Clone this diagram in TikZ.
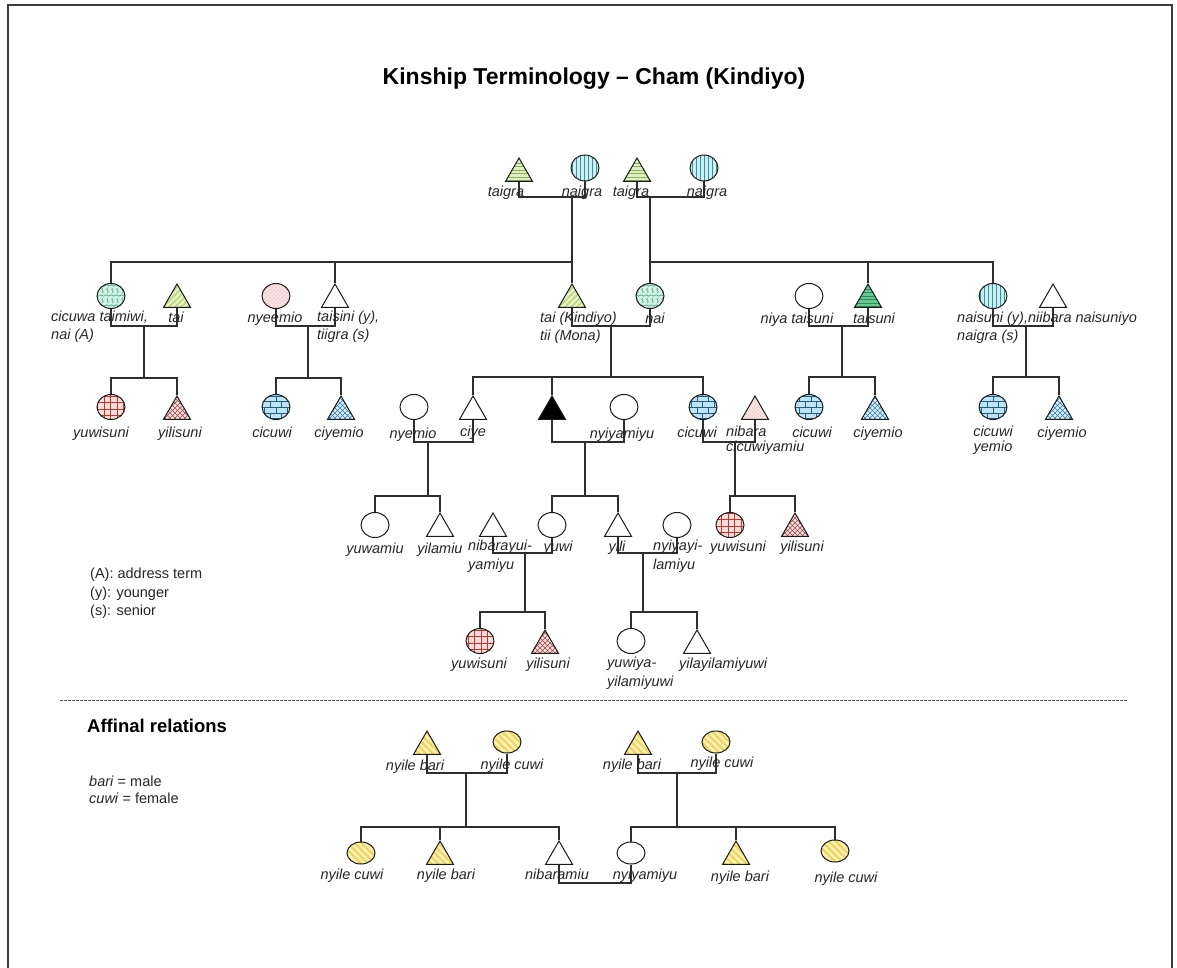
\documentclass[tikz,border=0pt]{standalone}
\usepackage{fontspec}
\setmainfont{Liberation Sans}
\usetikzlibrary{shapes.geometric,patterns}

\pgfdeclarepatternformonly{stripesNW}{\pgfqpoint{-1pt}{-1pt}}{\pgfqpoint{8pt}{8pt}}{\pgfqpoint{7pt}{7pt}}{%
  \pgfsetlinewidth{2.2pt}%
  \pgfpathmoveto{\pgfqpoint{-0.5pt}{7.5pt}}\pgfpathlineto{\pgfqpoint{7.5pt}{-0.5pt}}%
  \pgfpathmoveto{\pgfqpoint{-1.5pt}{1.5pt}}\pgfpathlineto{\pgfqpoint{1.5pt}{-1.5pt}}%
  \pgfpathmoveto{\pgfqpoint{5.5pt}{8.5pt}}\pgfpathlineto{\pgfqpoint{8.5pt}{5.5pt}}%
  \pgfusepath{stroke}}
\pgfdeclarepatternformonly{stripesNE}{\pgfqpoint{-1pt}{-1pt}}{\pgfqpoint{7pt}{7pt}}{\pgfqpoint{6pt}{6pt}}{%
  \pgfsetlinewidth{1.8pt}%
  \pgfpathmoveto{\pgfqpoint{-0.5pt}{-0.5pt}}\pgfpathlineto{\pgfqpoint{6.5pt}{6.5pt}}%
  \pgfpathmoveto{\pgfqpoint{-1.5pt}{4.5pt}}\pgfpathlineto{\pgfqpoint{1.5pt}{7.5pt}}%
  \pgfpathmoveto{\pgfqpoint{4.5pt}{-1.5pt}}\pgfpathlineto{\pgfqpoint{7.5pt}{1.5pt}}%
  \pgfusepath{stroke}}
\pgfdeclarepatternformonly{vlines}{\pgfqpoint{-1pt}{-1pt}}{\pgfqpoint{5pt}{5pt}}{\pgfqpoint{4pt}{4pt}}{%
  \pgfsetlinewidth{0.7pt}%
  \pgfpathmoveto{\pgfqpoint{0pt}{-0.5pt}}\pgfpathlineto{\pgfqpoint{0pt}{4.5pt}}%
  \pgfusepath{stroke}}
\pgfdeclarepatternformonly{hlines}{\pgfqpoint{-1pt}{-1pt}}{\pgfqpoint{4.5pt}{4.5pt}}{\pgfqpoint{3.5pt}{3.5pt}}{%
  \pgfsetlinewidth{0.6pt}%
  \pgfpathmoveto{\pgfqpoint{-0.5pt}{0pt}}\pgfpathlineto{\pgfqpoint{4pt}{0pt}}%
  \pgfusepath{stroke}}
\pgfdeclarepatternformonly{biggrid}{\pgfqpoint{-1pt}{-1pt}}{\pgfqpoint{7.5pt}{7.5pt}}{\pgfqpoint{6.5pt}{6.5pt}}{%
  \pgfsetlinewidth{0.9pt}%
  \pgfpathmoveto{\pgfqpoint{0pt}{-0.5pt}}\pgfpathlineto{\pgfqpoint{0pt}{7pt}}%
  \pgfpathmoveto{\pgfqpoint{-0.5pt}{0pt}}\pgfpathlineto{\pgfqpoint{7pt}{0pt}}%
  \pgfusepath{stroke}}
\pgfdeclarepatternformonly{bigxhatch}{\pgfqpoint{-1pt}{-1pt}}{\pgfqpoint{6pt}{6pt}}{\pgfqpoint{5pt}{5pt}}{%
  \pgfsetlinewidth{0.6pt}%
  \pgfpathmoveto{\pgfqpoint{0pt}{0pt}}\pgfpathlineto{\pgfqpoint{5.1pt}{5.1pt}}%
  \pgfpathmoveto{\pgfqpoint{0pt}{5pt}}\pgfpathlineto{\pgfqpoint{5.1pt}{-0.1pt}}%
  \pgfusepath{stroke}}
\pgfdeclarepatternformonly{sparsedots}{\pgfqpoint{-1pt}{-1pt}}{\pgfqpoint{5pt}{5pt}}{\pgfqpoint{4pt}{4pt}}{%
  \pgfpathcircle{\pgfqpoint{0pt}{0pt}}{0.5pt}%
  \pgfpathcircle{\pgfqpoint{2pt}{2pt}}{0.5pt}%
  \pgfusepath{fill}}
\pgfdeclarepatternformonly{wavy}{\pgfqpoint{-1pt}{-1pt}}{\pgfqpoint{11pt}{11pt}}{\pgfqpoint{10pt}{10pt}}{%
  \pgfsetlinewidth{0.6pt}%
  \pgfpathmoveto{\pgfqpoint{0pt}{2.5pt}}%
  \pgfpathcurveto{\pgfqpoint{2pt}{5pt}}{\pgfqpoint{3pt}{0pt}}{\pgfqpoint{5pt}{2.5pt}}%
  \pgfpathcurveto{\pgfqpoint{7pt}{5pt}}{\pgfqpoint{8pt}{0pt}}{\pgfqpoint{10pt}{2.5pt}}%
  \pgfpathmoveto{\pgfqpoint{2.5pt}{5pt}}%
  \pgfpathcurveto{\pgfqpoint{5pt}{7pt}}{\pgfqpoint{0pt}{8pt}}{\pgfqpoint{2.5pt}{10pt}}%
  \pgfpathmoveto{\pgfqpoint{7.5pt}{5pt}}%
  \pgfpathcurveto{\pgfqpoint{10pt}{7pt}}{\pgfqpoint{5pt}{8pt}}{\pgfqpoint{7.5pt}{10pt}}%
  \pgfusepath{stroke}}

\definecolor{shapeline}{HTML}{1A1A1A}
\definecolor{linkcol}{HTML}{2E2E2E}
\definecolor{txt}{HTML}{262626}
\definecolor{gfill}{HTML}{DDEFC3}
\definecolor{glines}{HTML}{8FAF5A}
\definecolor{cfill}{HTML}{C9F1F5}
\definecolor{clines}{HTML}{3F8F99}
\definecolor{mfill}{HTML}{D2F2E4}
\definecolor{mlines}{HTML}{3E9B7E}
\definecolor{tfill}{HTML}{EEF6CF}
\definecolor{tlines}{HTML}{C2DA86}
\definecolor{pfill}{HTML}{FCE6E6}
\definecolor{plines}{HTML}{A86A6A}
\definecolor{rfill}{HTML}{FADCDC}
\definecolor{rlines}{HTML}{C0392B}
\definecolor{xfill}{HTML}{F6DEDE}
\definecolor{xlines}{HTML}{9E4A4A}
\definecolor{bfill}{HTML}{BFE3F5}
\definecolor{blines}{HTML}{1F5F80}
\definecolor{yfill}{HTML}{D7EEF8}
\definecolor{ylines}{HTML}{3A7EA8}
\definecolor{sfill}{HTML}{66C98F}
\definecolor{slines}{HTML}{2E8B57}
\definecolor{afill}{HTML}{EFD660}
\definecolor{alines}{HTML}{FBF1B8}

\newcommand\labfont{\fontsize{14.5}{17}\selectfont\itshape}

\begin{document}
\begin{tikzpicture}[x=1pt,y=-1pt,
  cir/.style={ellipse, minimum width=28pt, minimum height=25pt, inner sep=0pt, draw=shapeline, line width=1pt},
  tri/.style={regular polygon, regular polygon sides=3, minimum size=31.2pt, inner sep=0pt, draw=shapeline, line width=1pt},
  ln/.style={line width=1.2pt, draw=linkcol},
  lab/.style={font=\labfont, text=txt, inner sep=0pt, anchor=base},
  multi/.style={font=\labfont, text=txt, inner sep=0pt, anchor=north west, align=left},
  taigraS/.style={preaction={fill=gfill}, pattern=hlines, pattern color=glines},
  naigraS/.style={preaction={fill=cfill}, pattern=vlines, pattern color=clines},
  mintS/.style={preaction={fill=mfill}, pattern=wavy, pattern color=mlines},
  taiS/.style={preaction={fill=tfill}, pattern=stripesNE, pattern color=tlines},
  pinkS/.style={preaction={fill=pfill}, pattern=sparsedots, pattern color=plines},
  gridS/.style={preaction={fill=rfill}, pattern=biggrid, pattern color=rlines},
  xhatchS/.style={preaction={fill=xfill}, pattern=bigxhatch, pattern color=xlines},
  brickS/.style={preaction={fill=bfill}, pattern=bricks, pattern color=blines},
  ciyS/.style={preaction={fill=yfill}, pattern=bigxhatch, pattern color=ylines},
  taisuniS/.style={preaction={fill=sfill}, pattern=hlines, pattern color=slines},
  yelS/.style={preaction={fill=afill}, pattern=stripesNW, pattern color=alines},
]
\useasboundingbox (0,0) rectangle (1177,968);
\draw[line width=2pt, draw={rgb,255:red,60;green,60;blue,60}] (8,5) rectangle (1172,990);

% title
\node[font=\fontsize{23}{27}\selectfont\bfseries, inner sep=0pt, anchor=base] (title) at (594,85) {Kinship Terminology -- Cham (Kindiyo)};

% ---------- generation 0
\node[tri, taigraS] (tg1) at (519,173.6) {};
\node[cir, naigraS, minimum height=26pt] (ng1) at (585,168) {};
\node[tri, taigraS] (tg2) at (637,173.6) {};
\node[cir, naigraS, minimum height=26pt] (ng2) at (704,168) {};

% ---------- generation 1
\node[cir, mintS] (cicuwa) at (111,296) {};
\node[tri, taiS] (tai1) at (177,299.6) {};
\node[cir, pinkS] (nyeemio) at (276,296) {};
\node[tri] (taisini) at (335,299.6) {};
\node[tri, taiS] (taiK) at (572,299.6) {};
\node[cir, mintS] (nai) at (650,296) {};
\node[cir] (niya) at (809,296) {};
\node[tri, taisuniS] (taisuni) at (868,299.6) {};
\node[cir, naigraS] (naisuni) at (993,296) {};
\node[tri] (niibara) at (1053,299.6) {};

% ---------- generation 2
\node[cir, gridS] (yuwisuniA) at (111,407) {};
\node[tri, xhatchS] (yilisuniA) at (177,411.6) {};
\node[cir, brickS] (cicuwiA) at (276,407) {};
\node[tri, ciyS] (ciyemioA) at (341,411.6) {};
\node[cir] (nyemio) at (414,407) {};
\node[tri] (ciye) at (473,411.6) {};
\node[tri, fill=black] (ego) at (552,411.6) {};
\node[cir] (nyiyamiyu) at (624,407) {};
\node[cir, brickS] (cicuwiB) at (703,407) {};
\node[tri, pinkS] (nibaraC) at (755,411.6) {};
\node[cir, brickS] (cicuwiC) at (809,407) {};
\node[tri, ciyS] (ciyemioC) at (875,411.6) {};
\node[cir, brickS] (cicuwiD) at (993,407) {};
\node[tri, ciyS] (ciyemioD) at (1059,411.6) {};

% ---------- generation 3
\node[cir] (yuwamiu) at (375,525) {};
\node[tri] (yilamiu) at (440,528.6) {};
\node[tri] (nibarayui) at (493,528.6) {};
\node[cir] (yuwi) at (552,525) {};
\node[tri] (yili) at (618,528.6) {};
\node[cir] (nyiyayi) at (677,525) {};
\node[cir, gridS] (yuwisuniB) at (730,525) {};
\node[tri, xhatchS] (yilisuniB) at (795,528.6) {};

% ---------- generation 4
\node[cir, gridS] (yuwisuniC) at (480,641) {};
\node[tri, xhatchS] (yilisuniC) at (545,645.6) {};
\node[cir] (yuwiya) at (631,641) {};
\node[tri] (yilay) at (697,645.6) {};

% ---------- affinal
\node[tri, yelS] (ab1) at (427,746.6) {};
\node[cir, yelS, minimum height=22pt] (ac1) at (507,742) {};
\node[tri, yelS] (ab2) at (638,746.6) {};
\node[cir, yelS, minimum height=22pt] (ac2) at (716,742) {};
\node[cir, yelS, minimum height=22pt] (ac3) at (361,853) {};
\node[tri, yelS] (ab3) at (440,856.6) {};
\node[tri] (nibaramiu) at (559,856.6) {};
\node[cir, minimum height=22pt] (nyiyA) at (631,853) {};
\node[tri, yelS] (ab4) at (736,856.6) {};
\node[cir, yelS, minimum height=22pt] (ac4) at (835,851) {};

% ---------- connectors
\coordinate (m1) at (572,197); \coordinate (s1) at (572,262);
\coordinate (m2) at (650,197); \coordinate (s2) at (650,262);
\draw[ln] (tg1.south) |- (m1) -| (ng1.south);
\draw[ln] (tg2.south) |- (m2) -| (ng2.south);
\draw[ln] (m1) -- (s1) -- (taiK.north);
\draw[ln] (s1) -| (cicuwa.north);
\draw[ln] (s1) -| (taisini.north);
\draw[ln] (m2) -- (s2) -- (nai.north);
\draw[ln] (s2) -| (taisuni.north);
\draw[ln] (s2) -| (naisuni.north);

\coordinate (m3) at (144,326); \coordinate (s3) at (144,378);
\draw[ln] (cicuwa.south) |- (m3) -| (tai1.south);
\draw[ln] (m3) -- (s3);
\draw[ln] (s3) -| (yuwisuniA.north);
\draw[ln] (s3) -| (yilisuniA.north);

\coordinate (m4) at (308,326); \coordinate (s4) at (308,378);
\draw[ln] (nyeemio.south) |- (m4) -| (taisini.south);
\draw[ln] (m4) -- (s4);
\draw[ln] (s4) -| (cicuwiA.north);
\draw[ln] (s4) -| (ciyemioA.north);

\coordinate (m5) at (611,326); \coordinate (s5) at (611,377);
\draw[ln] (taiK.south) |- (m5) -| (nai.south);
\draw[ln] (m5) -- (s5);
\draw[ln] (s5) -| (ciye.north);
\draw[ln] (s5) -| (ego.north);
\draw[ln] (s5) -| (cicuwiB.north);

\coordinate (m6) at (842,326); \coordinate (s6) at (842,377);
\draw[ln] (niya.south) |- (m6) -| (taisuni.south);
\draw[ln] (m6) -- (s6);
\draw[ln] (s6) -| (cicuwiC.north);
\draw[ln] (s6) -| (ciyemioC.north);

\coordinate (m7) at (1026,326); \coordinate (s7) at (1026,377);
\draw[ln] (naisuni.south) |- (m7) -| (niibara.south);
\draw[ln] (m7) -- (s7);
\draw[ln] (s7) -| (cicuwiD.north);
\draw[ln] (s7) -| (ciyemioD.north);

\coordinate (m8) at (428,442); \coordinate (s8) at (428,496);
\draw[ln] (nyemio.south) |- (m8) -| (ciye.south);
\draw[ln] (m8) -- (s8);
\draw[ln] (s8) -| (yuwamiu.north);
\draw[ln] (s8) -| (yilamiu.north);

\coordinate (m9) at (585,442); \coordinate (s9) at (585,496);
\draw[ln] (ego.south) |- (m9) -| (nyiyamiyu.south);
\draw[ln] (m9) -- (s9);
\draw[ln] (s9) -| (yuwi.north);
\draw[ln] (s9) -| (yili.north);

\coordinate (m10) at (735,442); \coordinate (s10) at (735,496);
\draw[ln] (cicuwiB.south) |- (m10) -| (nibaraC.south);
\draw[ln] (m10) -- (s10);
\draw[ln] (s10) -| (yuwisuniB.north);
\draw[ln] (s10) -| (yilisuniB.north);

\coordinate (m11) at (525,553); \coordinate (s11) at (525,612);
\draw[ln] (nibarayui.south) |- (m11) -| (yuwi.south);
\draw[ln] (m11) -- (s11);
\draw[ln] (s11) -| (yuwisuniC.north);
\draw[ln] (s11) -| (yilisuniC.north);

\coordinate (m12) at (643,553); \coordinate (s12) at (643,612);
\draw[ln] (yili.south) |- (m12) -| (nyiyayi.south);
\draw[ln] (m12) -- (s12);
\draw[ln] (s12) -| (yuwiya.north);
\draw[ln] (s12) -| (yilay.north);

\coordinate (m13) at (466,773); \coordinate (s13) at (466,827);
\draw[ln] (ab1.south) |- (m13) -| (ac1.south);
\draw[ln] (m13) -- (s13);
\draw[ln] (s13) -| (ac3.north);
\draw[ln] (s13) -| (ab3.north);
\draw[ln] (s13) -| (nibaramiu.north);

\coordinate (m14) at (677,773); \coordinate (s14) at (677,827);
\draw[ln] (ab2.south) |- (m14) -| (ac2.south);
\draw[ln] (m14) -- (s14);
\draw[ln] (s14) -| (nyiyA.north);
\draw[ln] (s14) -| (ab4.north);
\draw[ln] (s14) -| (ac4.north);

\coordinate (mA) at (595,883);
\draw[ln] (nibaramiu.south) |- (mA) -| (nyiyA.south);

% dashed separator
\coordinate (d1) at (60,700); \coordinate (d2) at (1127,700);
\draw[line width=0.8pt, draw={rgb,255:red,90;green,90;blue,90}, dash pattern=on 2.5pt off 1.5pt] (d1) -- (d2);

% ---------- labels
\node[lab] (lt1) at (506,197) {taigra};
\node[lab] (ln1) at (582,197) {naigra};
\node[lab] (lt2) at (631,197) {taigra};
\node[lab] (ln2) at (707,197) {naigra};

\node[multi, font=\fontsize{14.5}{18}\selectfont\itshape] (lcicuwa) at (51,311) {cicuwa taimiwi,\\nai (A)};
\node[lab] (ltai1) at (176,322) {tai};
\node[lab] (lnyeemio) at (275,322) {nyeemio};
\node[multi, font=\fontsize{14.5}{18}\selectfont\itshape] (ltaisini) at (317,311) {taisini (y),\\tiigra (s)};
\node[multi, font=\fontsize{14.5}{18}\selectfont\itshape] (ltaiK) at (540,312) {tai (Kindiyo)\\tii (Mona)};
\node[lab] (lnai) at (655,323) {nai};
\node[lab] (lniya) at (797,323) {niya taisuni};
\node[lab] (ltaisuni) at (874,323) {taisuni};
\node[multi, font=\fontsize{14.5}{18}\selectfont\itshape] (lnaisuni) at (957,312) {naisuni (y),niibara naisuniyo\\naigra (s)};

\node[lab] (lyuwisuniA) at (101,437) {yuwisuni};
\node[lab] (lyilisuniA) at (180,437) {yilisuni};
\node[lab] (lcicuwiA) at (272,437) {cicuwi};
\node[lab] (lciyemioA) at (339,437) {ciyemio};
\node[lab] (lnyemio) at (413,438) {nyemio};
\node[lab] (lciye) at (473,436) {ciye};
\node[lab] (lnyiyamiyu) at (622,438) {nyiyamiyu};
\node[lab] (lcicuwiB) at (697,437) {cicuwi};
\node[multi, font=\fontsize{14.5}{15}\selectfont\itshape] (lnibaraC) at (726,426) {nibara\\cicuwiyamiu};
\node[lab] (lcicuwiC) at (812,437) {cicuwi};
\node[lab] (lciyemioC) at (878,437) {ciyemio};
\node[multi, anchor=north, align=center, font=\fontsize{14.5}{15}\selectfont\itshape] (lcicuwiD) at (993,426) {cicuwi\\yemio};
\node[lab] (lciyemioD) at (1062,437) {ciyemio};

\node[lab] (lyuwamiu) at (375,553) {yuwamiu};
\node[lab] (lyilamiu) at (440,553) {yilamiu};
\node[multi, font=\fontsize{14.5}{19}\selectfont\itshape] (lnibarayui) at (468,540) {nibarayui-\\yamiyu};
\node[lab] (lyuwi) at (558,551) {yuwi};
\node[lab] (lyili) at (617,551) {yili};
\node[multi, font=\fontsize{14.5}{19}\selectfont\itshape] (lnyiyayi) at (653,540) {nyiyayi-\\lamiyu};
\node[lab] (lyuwisuniB) at (738,551) {yuwisuni};
\node[lab] (lyilisuniB) at (802,551) {yilisuni};

\node[lab] (lyuwisuniC) at (479,668) {yuwisuni};
\node[lab] (lyilisuniC) at (548,668) {yilisuni};
\node[multi, font=\fontsize{14.5}{19}\selectfont\itshape] (lyuwiya) at (607,657) {yuwiya-\\yilamiyuwi};
\node[lab, anchor=base west] (lyilay) at (679,668) {yilayilamiyuwi};

% legend
\node[multi, font=\fontsize{14.5}{18.5}\selectfont] (legend) at (90,568) {(A): address term\\(y): younger\\(s): senior};
\node[font=\fontsize{18.5}{22}\selectfont\bfseries, inner sep=0pt, anchor=base west] (affinal) at (87,732) {Affinal relations};
\node[multi, font=\fontsize{14.5}{17}\selectfont] (barikey) at (89,776) {\textit{bari} = male\\\textit{cuwi} = female};

% affinal labels
\node[lab] (lab1) at (415,770) {nyile bari};
\node[lab] (lac1) at (512,769) {nyile cuwi};
\node[lab] (lab2) at (632,769) {nyile bari};
\node[lab] (lac2) at (722,767) {nyile cuwi};
\node[lab] (lac3) at (352,879) {nyile cuwi};
\node[lab] (lab3) at (446,879) {nyile bari};
\node[lab] (lnibaramiu) at (557,879) {nibaramiu};
\node[lab] (lnyiyA) at (645,879) {nyiyamiyu};
\node[lab] (lab4) at (740,881) {nyile bari};
\node[lab] (lac4) at (846,882) {nyile cuwi};
\end{tikzpicture}
\end{document}
